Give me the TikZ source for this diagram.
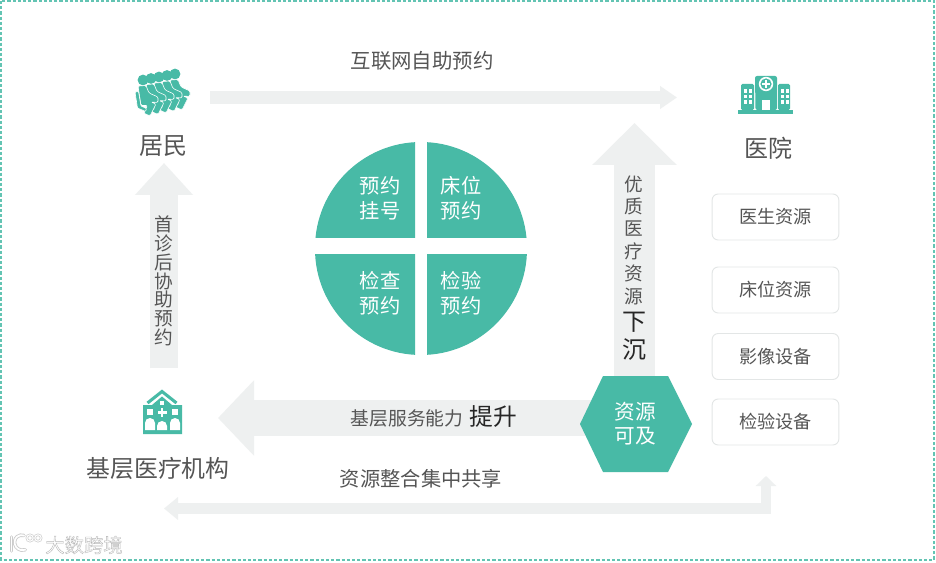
\documentclass[tikz,border=0pt]{standalone}
\usepackage{fontspec}
\setmainfont{Noto Sans CJK SC}
\usetikzlibrary{arrows.meta,calc}
\definecolor{teal1}{HTML}{48BAA6}
\definecolor{arrowgray}{HTML}{EEF0F0}
\definecolor{txt}{HTML}{555555}
\definecolor{edgegray}{HTML}{E3E6E6}
\newcommand{\pxfont}[2]{\fontsize{#1}{#2}\selectfont}
\tikzset{
  x=0.75pt,y=-0.75pt,
  label text/.style={text=txt,inner sep=0pt,align=center},
  white text/.style={text=white,inner sep=0pt,align=center},
  big arrow/.style={draw=arrowgray,line join=miter},
  res box/.style={draw=edgegray,line width=0.7pt,fill=white,rounded corners=4.5pt,minimum width=95pt,minimum height=34.5pt,inner sep=0pt,text=txt,font=\pxfont{13.6pt}{16pt}},
  icon/.style={fill=teal1,draw=none},
  hole/.style={fill=white,draw=none},
}
\begin{document}
\begin{tikzpicture}
\useasboundingbox (0,0) rectangle (936,563);
\fill[white] (0,0) rectangle (936,563);
\draw[teal1!85,line width=1pt,dash pattern=on 2.4pt off 1.5pt] (1,1) rectangle (934,560);

% named anchors for the block arrows
\coordinate (resident out) at (210,97.5);
\coordinate (hospital in) at (677,97.5);
\coordinate (clinic out) at (164,368);
\coordinate (resident in) at (164,163);
\coordinate (hex up) at (634.5,380);
\coordinate (hospital down) at (634.5,123);
\coordinate (hex left) at (595,418);
\coordinate (clinic in) at (218,418);
\coordinate (share left) at (164,508.5);
\coordinate (share corner) at (766,508.5);
\coordinate (share up) at (766,476);

% block arrows
\draw[big arrow,line width=9.75pt,-{Triangle[length=12.75pt,width=16.5pt]}] (resident out) -- (hospital in);
\draw[big arrow,line width=21pt,-{Triangle[length=24pt,width=42pt]}] (clinic out) -- (resident in);
\draw[big arrow,line width=30.75pt,-{Triangle[length=31.5pt,width=61.5pt]}] (hex up) -- (hospital down);
\draw[big arrow,line width=27pt,-{Triangle[length=27pt,width=55pt]}] (hex left) -- (clinic in);
\draw[big arrow,line width=8pt,{Triangle[length=10.5pt,width=16.5pt]}-{Triangle[length=7.5pt,width=15pt]}] (share left) -- (share corner) -- (share up);

% quadrant disc
\begin{scope}\clip (300,130) rectangle (415,237.5); \fill[teal1] (421,248) circle[radius=106]; \end{scope}
\begin{scope}\clip (427,130) rectangle (540,237.5); \fill[teal1] (421,248) circle[radius=106]; \end{scope}
\begin{scope}\clip (300,255) rectangle (415,365); \fill[teal1] (421,249) circle[radius=106]; \end{scope}
\begin{scope}\clip (427,255) rectangle (540,365); \fill[teal1] (421,249) circle[radius=106]; \end{scope}
\node[white text,font=\pxfont{15.2pt}{18.75pt}] (q1) at (380,198) {预约\\挂号};
\node[white text,font=\pxfont{15.2pt}{18.75pt}] (q2) at (461,198) {床位\\预约};
\node[white text,font=\pxfont{15.2pt}{18.75pt}] (q3) at (380,293.5) {检查\\预约};
\node[white text,font=\pxfont{15.2pt}{18.75pt}] (q4) at (461,293.5) {检验\\预约};

% hexagon
\fill[teal1] (580,424) -- (603,376) -- (668,376) -- (692,424) -- (668,472) -- (603,472) -- cycle;
\node[white text,font=\pxfont{15.5pt}{18pt}] (hex) at (635,424) {资源\\可及};

% labels
\node[label text,font=\pxfont{15.3pt}{18pt}] (t1) at (422,61) {互联网自助预约};
\node[label text,font=\pxfont{18pt}{22pt}] (resident) at (163.5,146) {居民};
\node[label text,font=\pxfont{18pt}{22pt}] (hospital) at (768.5,148) {医院};
\node[label text,font=\pxfont{17.9pt}{22pt}] (clinic) at (158,468) {基层医疗机构};
\node[label text,font=\pxfont{15.2pt}{18pt}] (t2) at (421,479) {资源整合集中共享};
\node[label text,font=\pxfont{14pt}{14.05pt}] (t3) at (164,281) {首\\诊\\后\\协\\助\\预\\约};
\node[label text,font=\pxfont{14pt}{16.8pt}] (t4) at (634,240) {优\\质\\医\\疗\\资\\源};
\node[text=black!85,inner sep=0pt,align=center,font=\pxfont{18pt}{21pt}] (t5) at (634,336) {下\\沉};
\node[label text,font=\pxfont{14.1pt}{18pt}] (t6) at (407,418) {基层服务能力};
\node[text=black!85,inner sep=0pt,font=\pxfont{17.8pt}{20pt}] (t7) at (493.5,417) {提升};

% resource boxes
\node[res box] (b1) at (775.5,217) {医生资源};
\node[res box] (b2) at (775.5,290) {床位资源};
\node[res box] (b3) at (775.5,356.5) {影像设备};
\node[res box] (b4) at (775.5,422) {检验设备};

% hospital icon
\fill[icon] (738,110) rectangle (793,114);
\fill[icon,rounded corners=1pt] (741,110) -- (741,84) -- (754,84) -- (754,110) -- cycle;
\fill[icon,rounded corners=1pt] (778,110) -- (778,84) -- (790,84) -- (790,110) -- cycle;
\fill[icon,rounded corners=1.5pt] (755.5,110) -- (755,76) -- (777,76) -- (777,110) -- cycle;
\fill[hole] (766,84) circle[radius=7.2];
\fill[icon] (766,84) circle[radius=5.6];
\fill[hole] (764.6,79.6) rectangle (767.4,88.4);
\fill[hole] (761.6,82.6) rectangle (770.4,85.4);
\fill[hole] (762,100) rectangle (770,110);
\foreach \wx in {744,749,781,786}
  \foreach \wy in {89.5,95,100.5}
    \fill[hole] (\wx,\wy) rectangle ++(3.4,3.4);

% clinic icon
\draw[teal1,line width=2.3pt,line join=miter] (147.5,403) -- (162,391.5) -- (176.5,403);
\fill[icon] (162,396.5) -- (152,405) -- (143,405) -- (143,434) -- (182,434) -- (182,405) -- (172,405) -- cycle;
\fill[hole] (160,401) rectangle (164,405);
\fill[hole] (147,409) rectangle (153,414.5);
\fill[hole] (172,409) rectangle (178,414.5);
\fill[hole] (160.8,408) rectangle (163.2,417);
\fill[hole] (157.5,411.3) rectangle (166.5,413.7);
\fill[hole] (145,430) -- (145,423) arc[start angle=180,end angle=360,radius=5] -- (155,430) -- cycle;
\fill[hole] (157,430) -- (157,426) arc[start angle=180,end angle=360,radius=5] -- (167,430) -- cycle;
\fill[hole] (170,430) -- (170,423) arc[start angle=180,end angle=360,radius=5] -- (180,430) -- cycle;

% residents icon: five seated figures, back row first
\foreach \dx/\dy in {32/-6,24/-4.5,16/-3,8/-1.5,0/0}{
  \begin{scope}[shift={(\dx,\dy)}]
    \fill[icon] (143,80) circle[radius=5.4];
    \path[icon,draw=white,line width=0.45pt,rounded corners=1pt]
      (138,86) -- (146,85.5) -- (149,93) -- (158,97) -- (158,102.5) -- (151,102)
      -- (156,104) -- (150,116) -- (143.5,113) -- (147.5,105.5) -- (141,105.5) -- cycle;
    \path[icon,draw=white,line width=0.45pt,rounded corners=0.6pt]
      (135,92) -- (138.5,91.5) -- (141,106) -- (146.5,108.5) -- (145.5,111.5) -- (137.5,108) -- cycle;
  \end{scope}
}

% watermark
\draw[gray!40,line width=2.6pt,line cap=round] (11.5,537) -- (11.5,551);
\draw[white,line width=1.3pt,line cap=round] (11.5,537) -- (11.5,551);
\draw[gray!40,line width=2.6pt,line cap=round] (24,535.5) arc[start angle=-70,end angle=-170,radius=7] arc[start angle=190,end angle=70,radius=8];
\draw[white,line width=1.3pt,line cap=round] (24,535.5) arc[start angle=-70,end angle=-170,radius=7] arc[start angle=190,end angle=70,radius=8];
\draw[gray!40,line width=1.8pt] (30,538) circle[radius=3.2] (38,538) circle[radius=3.2];
\draw[white,line width=0.8pt] (30,538) circle[radius=3.2] (38,538) circle[radius=3.2];
\node[text=white,inner sep=0pt,font=\pxfont{14.5pt}{16pt}] (wm) at (84,545) {\special{pdf:code q 2 Tr 0.3 w 0.72 0.72 0.72 RG}大数跨境\special{pdf:code Q}};
\end{tikzpicture}
\end{document}
